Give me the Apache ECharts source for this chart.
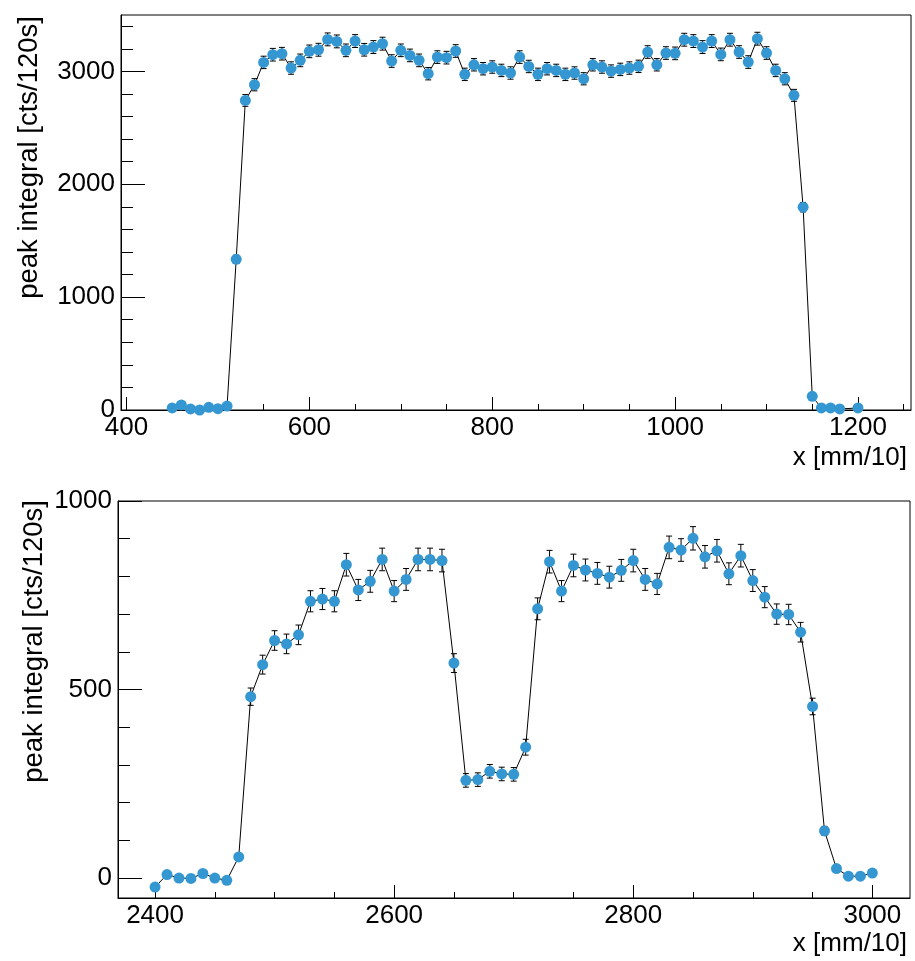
<!DOCTYPE html>
<html>
<head>
<meta charset="utf-8">
<script src="https://cdn.jsdelivr.net/npm/echarts@6/dist/echarts.min.js"></script>
<style>
  html, body { margin: 0; padding: 0; background: #ffffff; }
  #chart { width: 915px; height: 961px; }
</style>
</head>
<body>
<div id="chart"></div>
<script>
// ---- scan 1: positions [mm/10], peak integrals and their uncertainties ----
const scan1X = [
  450, 460, 470, 480, 490, 500, 510, 520, 530, 540,
  550, 560, 570, 580, 590, 600, 610, 620, 630, 640,
  650, 660, 670, 680, 690, 700, 710, 720, 730, 740,
  750, 760, 770, 780, 790, 800, 810, 820, 830, 840,
  850, 860, 870, 880, 890, 900, 910, 920, 930, 940,
  950, 960, 970, 980, 990, 1000, 1010, 1020, 1030, 1040,
  1050, 1060, 1070, 1080, 1090, 1100, 1110, 1120, 1130, 1140,
  1150, 1160, 1170, 1180,
  1200
];
const scan1Y = [
  18, 45, 9, 0, 24, 12, 35, 1335, 2743, 2882,
  3080, 3148, 3157, 3030, 3098, 3178, 3192, 3284, 3266, 3187,
  3269, 3192, 3216, 3246, 3092, 3187, 3142, 3098, 2980, 3127,
  3122, 3181, 2974, 3059, 3024, 3039, 3009, 2986, 3127, 3044,
  2974, 3024, 3009, 2974, 2986, 2935, 3059, 3039, 3003, 3018,
  3030, 3045, 3172, 3059, 3163, 3160, 3281, 3269, 3216, 3269,
  3151, 3281, 3172, 3083, 3290, 3163, 3009, 2935, 2788, 1797,
  121, 18, 18, 9,
  18
];
const scan1Err = [
  5, 7, 4, 3, 5, 4, 6, 37, 52, 54,
  55, 56, 56, 55, 56, 56, 57, 57, 57, 56,
  57, 56, 57, 57, 56, 56, 56, 56, 55, 56,
  56, 56, 55, 55, 55, 55, 55, 55, 56, 55,
  55, 55, 55, 55, 55, 54, 55, 55, 55, 55,
  55, 55, 56, 55, 56, 56, 57, 57, 57, 57,
  56, 57, 56, 56, 57, 56, 55, 54, 53, 42,
  11, 4, 4, 3,
  4
];

// ---- scan 2 ----
const scan2X = [
  2400, 2410, 2420, 2430, 2440, 2450, 2460, 2470, 2480, 2490,
  2500, 2510, 2520, 2530, 2540, 2550, 2560, 2570, 2580, 2590,
  2600, 2610, 2620, 2630, 2640, 2650, 2660, 2670, 2680, 2690,
  2700, 2710, 2720, 2730, 2740, 2750, 2760, 2770, 2780, 2790,
  2800, 2810, 2820, 2830, 2840, 2850, 2860, 2870, 2880, 2890,
  2900, 2910, 2920, 2930, 2940, 2950, 2960, 2970, 2980, 2990,
  3000
];
const scan2Y = [
  -24, 9, 0, -1, 12, 0, -6, 56, 481, 566,
  630, 621, 645, 734, 740, 734, 831, 764, 787, 845,
  761, 792, 845, 845, 842, 570, 259, 261, 283, 276,
  275, 347, 714, 839, 761, 829, 817, 808, 798, 816,
  842, 792, 780, 877, 870, 901, 852, 868, 807, 855,
  789, 745, 700, 699, 652, 455, 125, 25, 5, 5,
  13
];
const scan2Err = [
  5, 6, 5, 5, 6, 5, 5, 8, 23, 25,
  26, 26, 26, 28, 28, 28, 30, 28, 29, 30,
  28, 29, 30, 30, 30, 25, 18, 18, 18, 18,
  18, 21, 29, 30, 28, 30, 29, 29, 29, 29,
  30, 29, 28, 30, 30, 31, 30, 30, 29, 30,
  29, 28, 27, 27, 26, 22, 12, 6, 4, 4,
  5
];

// ---- axis ticks ----
const scan1XMajor = [400, 600, 800, 1000, 1200];
const scan1XMinor = [450, 500, 550, 650, 700, 750, 850, 900, 950, 1050, 1100, 1150, 1250];
const scan1YMajor = [0, 1000, 2000, 3000];
const scan1YMinor = [200, 400, 600, 800, 1200, 1400, 1600, 1800, 2200, 2400, 2600, 2800, 3200, 3400];
const scan2XMajor = [2400, 2600, 2800, 3000];
const scan2XMinor = [2450, 2500, 2550, 2650, 2700, 2750, 2850, 2900, 2950];
const scan2YMajor = [0, 500, 1000];
const scan2YMinor = [100, 200, 300, 400, 600, 700, 800, 900];

const xTitle = 'x [mm/10]';
const yTitle = 'peak integral [cts/120s]';

const FONT = '"Liberation Sans", Arial, Helvetica, sans-serif';
const MARKER = '#3497d1';

function zip3(xs, ys, es) {
  return xs.map((x, i) => [x, ys[i], es[i]]);
}

const plain = v => String(v);

function xAxisPair(gridIndex, min, max, major, minor) {
  return [
    {
      type: 'value', gridIndex, min, max, position: 'bottom',
      axisLine: { show: true, onZero: false, lineStyle: { color: '#000', width: 1 } },
      axisTick: { show: true, inside: true, length: 13, customValues: major, lineStyle: { color: '#000', width: 1 } },
      axisLabel: { show: true, customValues: major, formatter: plain, margin: 5, color: '#000', fontSize: 26, fontFamily: FONT },
      splitLine: { show: false }
    },
    {
      type: 'value', gridIndex, min, max, position: 'bottom',
      axisLine: { show: false, onZero: false },
      axisTick: { show: true, inside: true, length: 6, customValues: minor, lineStyle: { color: '#000', width: 1 } },
      axisLabel: { show: false },
      splitLine: { show: false }
    }
  ];
}

function yAxisPair(gridIndex, min, max, major, minor) {
  return [
    {
      type: 'value', gridIndex, min, max, position: 'left',
      axisLine: { show: true, onZero: false, lineStyle: { color: '#000', width: 1 } },
      axisTick: { show: true, inside: true, length: 24, customValues: major, lineStyle: { color: '#000', width: 1 } },
      axisLabel: { show: true, customValues: major, formatter: plain, margin: 6, color: '#000', fontSize: 26, fontFamily: FONT },
      splitLine: { show: false }
    },
    {
      type: 'value', gridIndex, min, max, position: 'left',
      axisLine: { show: false, onZero: false },
      axisTick: { show: true, inside: true, length: 12, customValues: minor, lineStyle: { color: '#000', width: 1 } },
      axisLabel: { show: false },
      splitLine: { show: false }
    }
  ];
}

// vertical error bar with small caps
function renderErrorBar(params, api) {
  const x = api.value(0), y = api.value(1), e = api.value(2);
  const hi = api.coord([x, y + e]);
  const lo = api.coord([x, y - e]);
  const w = 3;
  const st = { stroke: '#000', lineWidth: 1 };
  return {
    type: 'group',
    children: [
      { type: 'line', shape: { x1: hi[0], y1: hi[1], x2: lo[0], y2: lo[1] }, style: st },
      { type: 'line', shape: { x1: hi[0] - w, y1: hi[1], x2: hi[0] + w, y2: hi[1] }, style: st },
      { type: 'line', shape: { x1: lo[0] - w, y1: lo[1], x2: lo[0] + w, y2: lo[1] }, style: st }
    ]
  };
}

function scanSeries(axisIdx, data) {
  return [
    {
      type: 'line', xAxisIndex: axisIdx, yAxisIndex: axisIdx, data: data.map(d => [d[0], d[1]]),
      showSymbol: false, symbol: 'none', lineStyle: { color: '#000', width: 1 }, z: 2, silent: true
    },
    {
      type: 'custom', xAxisIndex: axisIdx, yAxisIndex: axisIdx, data: data,
      renderItem: renderErrorBar, encode: { x: 0, y: [1, 2] }, z: 3, silent: true
    },
    {
      type: 'scatter', xAxisIndex: axisIdx, yAxisIndex: axisIdx, data: data.map(d => [d[0], d[1]]),
      symbol: 'circle', symbolSize: 11, itemStyle: { color: MARKER, opacity: 1 }, z: 4, silent: true
    }
  ];
}

const chart = echarts.init(document.getElementById('chart'), null, { renderer: 'canvas' });

const gridStyle = { show: true, borderColor: '#000', borderWidth: 1, backgroundColor: '#fff', containLabel: false, outerBoundsMode: 'none' };

chart.setOption({
  animation: false,
  backgroundColor: '#ffffff',
  grid: [
    Object.assign({ left: 121, right: 4, top: 15, height: 395 }, gridStyle),
    Object.assign({ left: 118, right: 5, top: 501, height: 397 }, gridStyle)
  ],
  xAxis: [
    ...xAxisPair(0, 394, 1258, scan1XMajor, scan1XMinor),
    ...xAxisPair(1, 2369, 3031.5, scan2XMajor, scan2XMinor)
  ],
  yAxis: [
    ...yAxisPair(0, 0, 3500, scan1YMajor, scan1YMinor),
    ...yAxisPair(1, -53, 1000, scan2YMajor, scan2YMinor)
  ],
  series: [
    ...scanSeries(0, zip3(scan1X, scan1Y, scan1Err)),
    ...scanSeries(2, zip3(scan2X, scan2Y, scan2Err))
  ],
  graphic: [
    { type: 'text', x: 907, y: 458, style: { text: xTitle, font: '26px ' + FONT, fill: '#000', align: 'right', verticalAlign: 'middle' } },
    { type: 'text', x: 907, y: 944, style: { text: xTitle, font: '26px ' + FONT, fill: '#000', align: 'right', verticalAlign: 'middle' } },
    { type: 'text', x: 29, y: 16, rotation: Math.PI / 2, style: { text: yTitle, font: '27.5px ' + FONT, fill: '#000', align: 'right', verticalAlign: 'middle' } },
    { type: 'text', x: 34, y: 500, rotation: Math.PI / 2, style: { text: yTitle, font: '27.5px ' + FONT, fill: '#000', align: 'right', verticalAlign: 'middle' } }
  ]
});
</script>
</body>
</html>
